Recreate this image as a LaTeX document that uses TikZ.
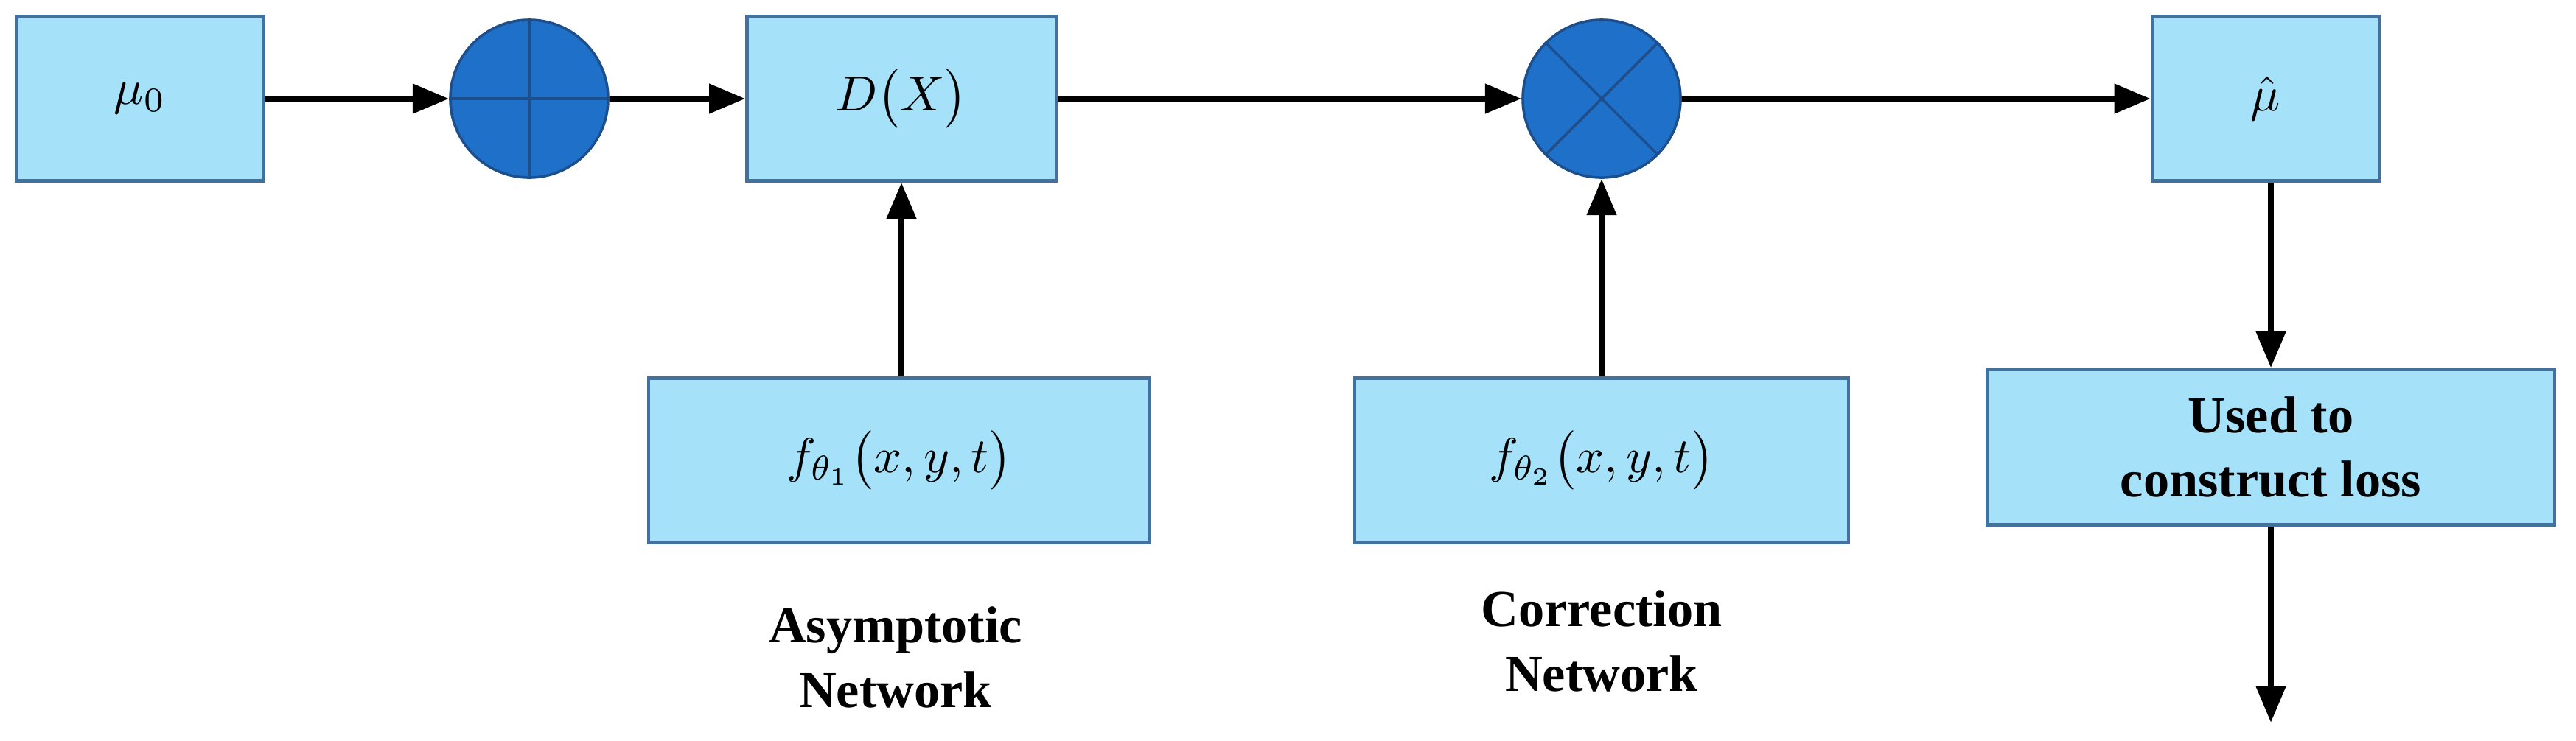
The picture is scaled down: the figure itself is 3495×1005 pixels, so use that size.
\documentclass[tikz,border=0pt]{standalone}
\usepackage{fontspec}
\newfontfamily\lbl{Liberation Serif}
\usetikzlibrary{arrows.meta}
\definecolor{boxfill}{HTML}{A6E1FA}
\definecolor{boxline}{HTML}{41719C}
\definecolor{opfill}{HTML}{1F70C8}
\definecolor{opline}{HTML}{1C4F8C}
\newcommand{\boxmath}[1]{\scalebox{1.9}{$#1$}}
\begin{document}
\begin{tikzpicture}[x=0.01cm,y=-0.01cm,
  box/.style={draw=boxline, line width=1.2pt, fill=boxfill, inner sep=0pt},
  op/.style={circle, draw=opline, line width=1pt, fill=opfill, minimum size=2.14cm, inner sep=0pt},
  lab/.style={font=\lbl\bfseries\fontsize{20}{25}\selectfont, align=center},
  arr/.style={-{Triangle[length=14pt,width=11pt]}, line width=2.4pt}]
\useasboundingbox (0,0) rectangle (3495,1005);
\node[box, minimum width=3.35cm, minimum height=2.23cm] (mu0) at (190,134) {\boxmath{\mu_0}};
\node[op] (plus) at (718,134) {};
\draw[opline, line width=1pt] (plus.north) -- (plus.south) (plus.west) -- (plus.east);
\node[box, minimum width=4.19cm, minimum height=2.23cm] (dx) at (1223,134) {\boxmath{D\big(X\big)}};
\node[op] (times) at (2173,134) {};
\draw[opline, line width=1pt] (times.north west) -- (times.south east) (times.north east) -- (times.south west);
\node[box, minimum width=3.08cm, minimum height=2.23cm] (muhat) at (3074,134) {\boxmath{\hat{\mu}}};
\node[box, minimum width=6.8cm, minimum height=2.23cm] (f1) at (1220,625) {\boxmath{f_{\theta_1}\big(x,y,t\big)}};
\node[box, minimum width=6.69cm, minimum height=2.23cm] (f2) at (2173,625) {\boxmath{f_{\theta_2}\big(x,y,t\big)}};
\node[box, lab, minimum width=7.69cm, minimum height=2.11cm] (loss) at (3081,607) {Used to\\construct loss};
\node[lab] (asy) at (1215,892) {Asymptotic\\Network};
\node[lab] (cor) at (2173,870) {Correction\\Network};
\coordinate (out) at (3081,981);
\draw[arr] (mu0) -- (plus);
\draw[arr] (plus) -- (dx);
\draw[arr] (dx) -- (times);
\draw[arr] (times) -- (muhat);
\draw[arr] (f1.north -| dx) -- (dx);
\draw[arr] (f2) -- (times);
\draw[arr] (muhat.south -| loss) -- (loss);
\draw[arr] (loss) -- (out);
\end{tikzpicture}
\end{document}
